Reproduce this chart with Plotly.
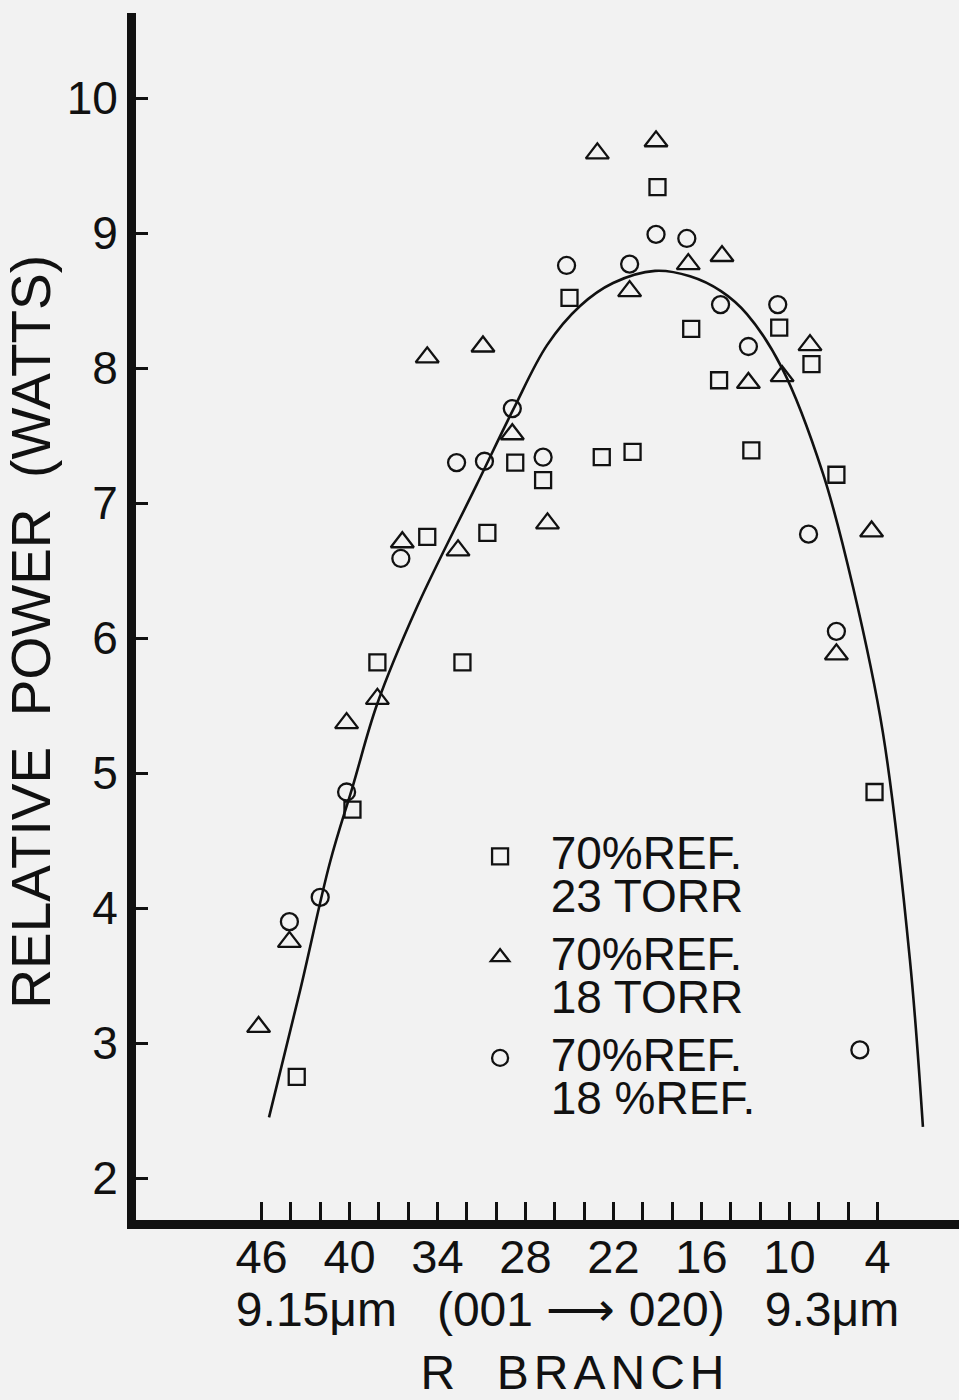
import plotly.graph_objects as go

# R-branch line number (x) vs relative power in watts (y)
sq_r = [43.6, 39.8, 38.1, 34.7, 32.3, 30.6, 28.7, 26.8, 25.0, 22.8, 20.7, 19.0,
        16.7, 14.8, 12.6, 10.7, 8.5, 6.8, 4.2]
sq_p = [2.75, 4.73, 5.82, 6.75, 5.82, 6.78, 7.30, 7.17, 8.52, 7.34, 7.38, 9.34,
        8.29, 7.91, 7.39, 8.30, 8.03, 7.21, 4.86]

tri_r = [46.2, 44.1, 40.2, 38.1, 36.4, 34.7, 32.6, 30.9, 28.9, 26.5, 23.1, 20.9,
         19.1, 16.9, 14.6, 12.8, 10.5, 8.6, 6.8, 4.4]
tri_p = [3.12, 3.75, 5.37, 5.55, 6.71, 8.08, 6.65, 8.16, 7.51, 6.85, 9.59, 8.57,
         9.68, 8.77, 8.83, 7.89, 7.94, 8.17, 5.88, 6.79]

cir_r = [44.1, 42.0, 40.2, 36.5, 32.7, 30.8, 28.9, 26.8, 25.2, 20.9, 19.1, 17.0,
         14.7, 12.8, 10.8, 8.7, 6.8, 5.2]
cir_p = [3.90, 4.08, 4.86, 6.59, 7.30, 7.31, 7.70, 7.34, 8.76, 8.77, 8.99, 8.96,
         8.47, 8.16, 8.47, 6.77, 6.05, 2.95]

# hand-drawn fitted curve
fit_r = [45.49, 43.37, 41.33, 39.76, 38.12, 35.40, 31.31, 28.85, 26.53, 24.28,
         22.03, 19.17, 16.78, 14.67, 12.90, 10.51, 7.72, 5.67, 3.63, 1.79, 0.90]
fit_p = [2.45, 3.39, 4.34, 4.91, 5.51, 6.23, 7.14, 7.69, 8.17, 8.46,
         8.63, 8.72, 8.68, 8.57, 8.40, 8.00, 7.22, 6.38, 5.30, 3.62, 2.38]

x_ticks = list(range(46, 3, -2))
x_labels = ["46", "", "", "40", "", "", "34", "", "", "28", "", "", "22", "", "",
            "16", "", "", "10", "", "", "4"]
y_ticks = [2, 3, 4, 5, 6, 7, 8, 9, 10]
y_labels = ["2", "3", "4", "5", "6", "7", "8", "9", "10"]

legend_names = [
    "70%REF.<br>23 TORR",
    "70%REF.<br>18 TORR",
    "70%REF.<br>18 %REF.",
]

INK = "#111111"
BG = "#f2f2f2"
FONT = "Liberation Sans"


def big(text, size=46):
    return "<br>".join(
        f"<span style='font-size:{size}px'>&nbsp;&nbsp;{t}</span>" for t in text.split("<br>")
    )


fig = go.Figure()

fig.add_trace(go.Scatter(
    x=fit_r, y=fit_p, mode="lines", showlegend=False, hoverinfo="skip",
    line=dict(color=INK, width=2.6, shape="spline", smoothing=1.0),
))

marker_line = dict(color=INK, width=2.3)
fig.add_trace(go.Scatter(
    x=sq_r, y=sq_p, mode="markers", name=big(legend_names[0]), legendgroup="a",
    marker=dict(symbol="square-open", size=16, color=INK, line=marker_line),
))
fig.add_trace(go.Scatter(
    x=tri_r, y=tri_p, mode="markers", name=big(legend_names[1]), legendgroup="b",
    marker=dict(symbol="triangle-up-open", size=20, color=INK, line=marker_line),
))
fig.add_trace(go.Scatter(
    x=cir_r, y=cir_p, mode="markers", name=big(legend_names[2]), legendgroup="c",
    marker=dict(symbol="circle-open", size=17, color=INK, line=marker_line),
))

fig.update_layout(
    width=959, height=1400,
    margin=dict(l=136, r=0, t=13, b=180, autoexpand=False),
    paper_bgcolor=BG, plot_bgcolor=BG,
    font=dict(family=FONT, color=INK),
    legend=dict(
        x=0.412, y=0.3245, xanchor="left", yanchor="top",
        bgcolor="rgba(0,0,0,0)", borderwidth=0,
        font=dict(family=FONT, size=33, color=INK),
        valign="top", tracegroupgap=12, traceorder="grouped",
        itemwidth=40,
    ),
    xaxis=dict(
        range=[54.56, -1.56], showgrid=False, zeroline=False,
        showline=True, linewidth=9, linecolor=INK,
        ticks="inside", ticklen=18, tickwidth=2.5, tickcolor=INK,
        tickvals=x_ticks, ticktext=x_labels, ticklabelstandoff=-12,
        tickfont=dict(family=FONT, size=47, color=INK),
        title=dict(
            text=("&nbsp;&nbsp;&nbsp;9.15μm&nbsp;&nbsp;&nbsp;(001&nbsp;⟶&nbsp;020)&nbsp;&nbsp;&nbsp;9.3μm<br>"
                  "<span style='letter-spacing:5px'>&nbsp;&nbsp;&nbsp;R&nbsp;&nbsp;BRANCH</span>"),
            font=dict(family=FONT, size=48, color=INK),
            standoff=4,
        ),
        automargin=False,
    ),
    yaxis=dict(
        range=[1.69, 10.63], showgrid=False, zeroline=False,
        showline=True, linewidth=9, linecolor=INK,
        ticks="inside", ticklen=12, tickwidth=2.5, tickcolor=INK,
        tickvals=y_ticks, ticktext=y_labels,
        tickfont=dict(family=FONT, size=46, color=INK),
        title=dict(
            text="RELATIVE&nbsp;&nbsp;POWER&nbsp;&nbsp;(WATTS)&nbsp;&nbsp;",
            font=dict(family=FONT, size=55, color=INK),
            standoff=12,
        ),
        automargin=False,
    ),
)

fig.write_html(
    "out.html",
    config={"displayModeBar": False},
    post_script="document.body.style.margin='0';document.body.style.background='#f2f2f2';",
)
